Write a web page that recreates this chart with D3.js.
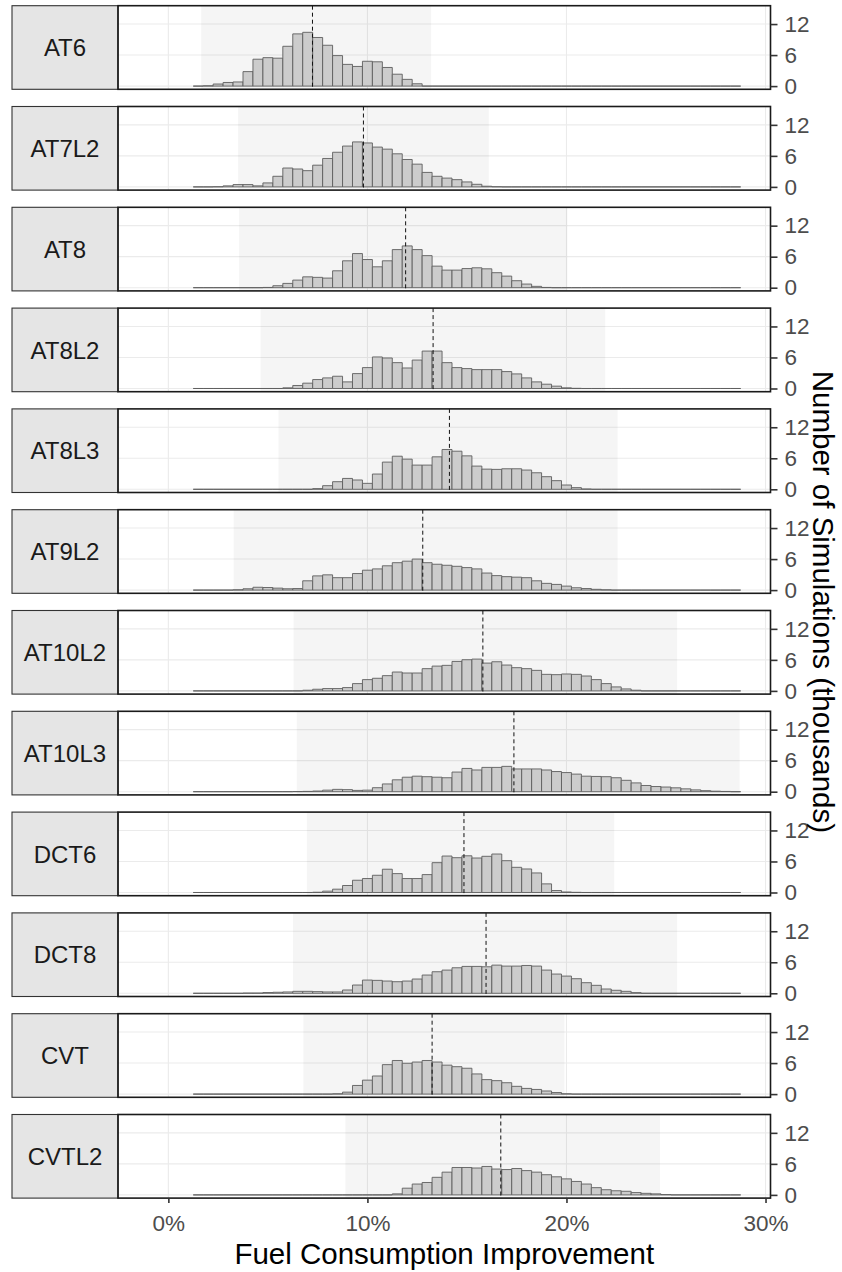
<!DOCTYPE html>
<html>
<head>
<meta charset="utf-8">
<script src="https://cdn.jsdelivr.net/npm/d3@7"></script>
<style>
  body { margin: 0; background: #fff; }
  text { font-family: "Liberation Sans", Arial, sans-serif; }
</style>
</head>
<body>
<div id="chart-area"></div>
<script>
// DATA
const facets = ["AT6", "AT7L2", "AT8", "AT8L2", "AT8L3", "AT9L2", "AT10L2", "AT10L3", "DCT6", "DCT8", "CVT", "CVTL2"]

// histogram bins: 55 bins of 0.5 points starting at 1.25%
const binStart = 1.25
const binWidth = 0.5

// counts per bin, thousands of simulations
const countsAT6 = [
  0, 0.06, 0.4, 0.7, 0.8, 2.8, 5.2, 5.5, 5.4, 7.7,
  10.1, 10.4, 9.4, 7.9, 5.9, 4.2, 3.8, 4.8, 4.7, 3.6,
  2.3, 1.3, 0.45, 0, 0, 0, 0, 0, 0, 0,
  0, 0, 0, 0, 0, 0, 0, 0, 0, 0,
  0, 0, 0, 0, 0, 0, 0, 0, 0, 0,
  0, 0, 0, 0, 0]
const countsAT7L2 = [
  0, 0, 0.03, 0.2, 0.45, 0.45, 0.2, 0.77, 2.05, 3.65,
  3.46, 3.14, 4.2, 5.5, 6.7, 7.9, 8.7, 8.5, 7.7, 7.3,
  6.4, 5.3, 4.4, 2.8, 2.05, 1.7, 1.4, 0.96, 0.5, 0.13,
  0.03, 0, 0, 0, 0, 0, 0, 0, 0, 0,
  0, 0, 0, 0, 0, 0, 0, 0, 0, 0,
  0, 0, 0, 0, 0]
const countsAT8 = [
  0, 0, 0, 0, 0, 0, 0, 0.05, 0.38, 0.83,
  1.47, 2.1, 2.0, 1.86, 3.27, 5.2, 6.6, 5.45, 4.04, 5.2,
  7.37, 8.08, 7.37, 6.2, 4.17, 3.4, 3.4, 3.7, 3.85, 3.65,
  2.9, 2.24, 1.35, 0.7, 0.26, 0.05, 0, 0, 0, 0,
  0, 0, 0, 0, 0, 0, 0, 0, 0, 0,
  0, 0, 0, 0, 0]
const countsAT8L2 = [
  0, 0, 0, 0, 0, 0, 0, 0, 0, 0.13,
  0.58, 1.03, 1.73, 2.05, 2.37, 1.28, 2.88, 4.04, 6.1, 5.9,
  5.0, 3.97, 5.5, 7.24, 7.24, 5.0, 4.04, 3.85, 3.65, 3.65,
  3.65, 3.27, 2.82, 2.05, 1.28, 0.83, 0.45, 0.13, 0.03, 0,
  0, 0, 0, 0, 0, 0, 0, 0, 0, 0,
  0, 0, 0, 0, 0]
const countsAT8L3 = [
  0, 0, 0, 0, 0, 0, 0, 0, 0, 0,
  0, 0, 0.13, 0.7, 1.47, 2.1, 1.8, 1.15, 2.95, 5.26,
  6.4, 5.83, 4.68, 4.68, 6.28, 7.7, 7.37, 6.47, 4.49, 3.9,
  3.85, 3.97, 3.97, 3.72, 3.2, 2.44, 1.67, 0.83, 0.32, 0.06,
  0, 0, 0, 0, 0, 0, 0, 0, 0, 0,
  0, 0, 0, 0, 0]
const countsAT9L2 = [
  0, 0, 0, 0, 0.06, 0.26, 0.55, 0.5, 0.38, 0.26,
  0.3, 1.8, 2.75, 2.95, 2.4, 2.4, 3.2, 3.85, 4.1, 4.7,
  5.3, 5.6, 6.0, 5.3, 5.0, 4.8, 4.6, 4.35, 4.1, 3.3,
  2.8, 2.6, 2.5, 2.4, 1.8, 1.3, 1.1, 0.77, 0.45, 0.3,
  0.15, 0.06, 0, 0, 0, 0, 0, 0, 0, 0,
  0, 0, 0, 0, 0]
const countsAT10L2 = [
  0, 0, 0, 0, 0, 0, 0, 0, 0, 0,
  0, 0.13, 0.32, 0.45, 0.45, 0.64, 1.41, 2.18, 2.44, 2.95,
  3.65, 3.46, 3.46, 4.3, 4.8, 4.94, 5.7, 6.03, 6.15, 5.38,
  5.64, 5.0, 4.49, 4.3, 3.97, 3.2, 3.14, 3.27, 3.2, 2.88,
  2.18, 1.41, 0.77, 0.38, 0.13, 0, 0, 0, 0, 0,
  0, 0, 0, 0, 0]
const countsAT10L3 = [
  0, 0, 0, 0, 0, 0, 0, 0, 0, 0,
  0.03, 0.06, 0.13, 0.3, 0.45, 0.4, 0.25, 0.3, 0.77, 1.5,
  2.3, 2.8, 3.0, 2.9, 2.8, 2.7, 3.8, 4.5, 4.2, 4.7,
  4.7, 4.9, 4.4, 4.4, 4.4, 4.2, 3.9, 3.7, 3.4, 3.0,
  2.95, 2.9, 2.7, 2.2, 1.7, 1.2, 1.0, 0.9, 0.75, 0.55,
  0.35, 0.2, 0.1, 0.05, 0]
const countsDCT6 = [
  0, 0, 0, 0, 0, 0, 0, 0, 0, 0,
  0, 0, 0.05, 0.26, 0.64, 1.35, 2.37, 2.7, 3.33, 4.5,
  3.65, 2.7, 2.7, 3.46, 5.77, 7.05, 6.73, 7.1, 6.67, 7.0,
  7.44, 6.15, 4.87, 4.55, 3.78, 1.67, 0.38, 0.1, 0.03, 0,
  0, 0, 0, 0, 0, 0, 0, 0, 0, 0,
  0, 0, 0, 0, 0]
const countsDCT8 = [
  0, 0, 0, 0, 0, 0.05, 0.05, 0.15, 0.2, 0.26,
  0.38, 0.38, 0.32, 0.26, 0.26, 0.64, 1.6, 2.56, 2.5, 2.37,
  2.24, 2.37, 2.76, 3.53, 4.17, 4.49, 4.94, 5.2, 5.2, 5.13,
  5.45, 5.26, 5.26, 5.38, 5.26, 4.49, 3.72, 3.33, 2.82, 2.05,
  1.54, 0.83, 0.58, 0.38, 0.13, 0, 0, 0, 0, 0,
  0, 0, 0, 0, 0]
const countsCVT = [
  0, 0, 0, 0, 0, 0, 0, 0, 0, 0,
  0, 0, 0, 0, 0.06, 0.38, 1.67, 2.7, 3.5, 5.7,
  6.5, 5.96, 6.2, 6.5, 6.2, 5.6, 5.3, 5.0, 3.9, 2.8,
  2.6, 2.2, 1.5, 1.1, 0.9, 0.6, 0.3, 0.06, 0, 0,
  0, 0, 0, 0, 0, 0, 0, 0, 0, 0,
  0, 0, 0, 0, 0]
const countsCVTL2 = [
  0, 0, 0, 0, 0, 0, 0, 0, 0, 0,
  0, 0, 0, 0, 0, 0, 0, 0, 0, 0,
  0.2, 1.3, 2.1, 2.4, 3.4, 4.4, 5.3, 5.3, 5.2, 5.5,
  5.0, 4.9, 5.1, 4.7, 4.4, 3.9, 3.5, 3.1, 2.6, 2.1,
  1.4, 1.0, 0.8, 0.7, 0.45, 0.3, 0.2, 0.06, 0, 0,
  0, 0, 0, 0, 0]

const series = [countsAT6, countsAT7L2, countsAT8, countsAT8L2, countsAT8L3, countsAT9L2,
  countsAT10L2, countsAT10L3, countsDCT6, countsDCT8, countsCVT, countsCVTL2]

// median (dashed line) and shaded range, % improvement
const medians = [7.24, 9.8, 11.92, 13.3, 14.12, 12.78, 15.8, 17.36, 14.85, 15.96, 13.25, 16.7]
const shadeLow = [1.65, 3.5, 3.55, 4.63, 5.53, 3.28, 6.29, 6.45, 6.96, 6.26, 6.78, 8.89]
const shadeHigh = [13.2, 16.1, 20.05, 21.95, 22.57, 22.57, 25.56, 28.7, 22.4, 25.56, 19.9, 24.7]

const xTicks = [0, 10, 20, 30]
const yTicks = [0, 6, 12]

// LAYOUT
const width = 842
const height = 1272
const panel = { left: 118, right: 770.5, top: 5.7, height: 83.6, step: 100.8 }
const stripLeft = 12

const svg = d3.select("#chart-area")
  .append("svg")
    .attr("width", width)
    .attr("height", height)

const xScale = d3.scaleLinear()
  .domain([-2.53, 30.25])
  .range([panel.left, panel.right])

const yScale = d3.scaleLinear()
  .domain([-0.62, 15.55])
  .range([panel.height, 0])

const bins = series[0].map((d, k) => binStart + k * binWidth)

facets.forEach((name, i) => {
  const g = svg.append("g")
    .attr("transform", "translate(0, " + (panel.top + i * panel.step) + ")")

  // gridlines
  g.selectAll(".gx").data(xTicks).enter().append("line")
    .attr("x1", d => xScale(d)).attr("x2", d => xScale(d))
    .attr("y1", 0).attr("y2", panel.height)
    .attr("stroke", "#ebebeb").attr("stroke-width", 1.1)
  g.selectAll(".gy").data(yTicks).enter().append("line")
    .attr("x1", panel.left).attr("x2", panel.right)
    .attr("y1", d => yScale(d)).attr("y2", d => yScale(d))
    .attr("stroke", "#ebebeb").attr("stroke-width", 1.1)

  // shaded range
  g.append("rect")
    .attr("x", xScale(shadeLow[i]))
    .attr("width", xScale(shadeHigh[i]) - xScale(shadeLow[i]))
    .attr("y", 0)
    .attr("height", panel.height)
    .attr("fill", "#000")
    .attr("fill-opacity", 0.04)

  // histogram bars (paths so that empty bins still show as a baseline)
  g.selectAll(".bar").data(series[i]).enter().append("path")
    .attr("d", (d, k) => {
      const x0 = xScale(bins[k]), x1 = xScale(bins[k] + binWidth)
      const y0 = yScale(0), y1 = yScale(d)
      return "M" + x0 + "," + y0 + "V" + y1 + "H" + x1 + "V" + y0 + "Z"
    })
    .attr("fill", "#cccccc")
    .attr("stroke", "#5e5e5e")
    .attr("stroke-width", 0.9)

  // median
  g.append("line")
    .attr("x1", xScale(medians[i])).attr("x2", xScale(medians[i]))
    .attr("y1", 0).attr("y2", panel.height)
    .attr("stroke", "#111")
    .attr("stroke-width", 1)
    .attr("stroke-dasharray", "4,3")

  // strip
  g.append("rect")
    .attr("x", stripLeft).attr("y", 0)
    .attr("width", panel.left - stripLeft).attr("height", panel.height)
    .attr("fill", "#e5e5e5")
    .attr("stroke", "#333")
    .attr("stroke-width", 1.1)
  g.append("text")
    .attr("x", (stripLeft + panel.left) / 2)
    .attr("y", panel.height / 2)
    .attr("dy", "0.36em")
    .attr("text-anchor", "middle")
    .attr("font-size", "24px")
    .attr("fill", "#1a1a1a")
    .text(name)

  // panel border
  g.append("rect")
    .attr("x", panel.left).attr("y", 0)
    .attr("width", panel.right - panel.left).attr("height", panel.height)
    .attr("fill", "none")
    .attr("stroke", "#1a1a1a")
    .attr("stroke-width", 1.6)

  // right axis
  const yAxisCall = d3.axisRight(yScale).tickValues(yTicks).tickSize(7).tickPadding(7)
  const ya = g.append("g")
    .attr("transform", "translate(" + panel.right + ", 0)")
    .call(yAxisCall)
  ya.select(".domain").remove()
  ya.selectAll("line").attr("stroke", "#333").attr("stroke-width", 1.6)
  ya.selectAll("text")
    .attr("font-family", "Liberation Sans, Arial, sans-serif")
    .attr("font-size", "22.5px")
    .attr("fill", "#4d4d4d")

  if (i === facets.length - 1) {
    const xAxisCall = d3.axisBottom(xScale)
      .tickValues(xTicks)
      .tickFormat(d => d + "%")
      .tickSize(5)
      .tickPadding(12)
    const xa = g.append("g")
      .attr("transform", "translate(0, " + panel.height + ")")
      .call(xAxisCall)
    xa.select(".domain").remove()
    xa.selectAll("line").attr("stroke", "#333").attr("stroke-width", 1.6)
    xa.selectAll("text")
      .attr("font-family", "Liberation Sans, Arial, sans-serif")
      .attr("font-size", "22.5px")
      .attr("fill", "#4d4d4d")
  }
})

// AXIS TITLES
const panelsBottom = panel.top + (facets.length - 1) * panel.step + panel.height

svg.append("text")
  .attr("x", (panel.left + panel.right) / 2)
  .attr("y", 1264)
  .attr("text-anchor", "middle")
  .attr("font-size", "29.5px")
  .attr("fill", "#000")
  .text("Fuel Consumption Improvement")

svg.append("text")
  .attr("transform", "translate(813, " + (panel.top + panelsBottom) / 2 + ") rotate(90)")
  .attr("text-anchor", "middle")
  .attr("font-size", "29.5px")
  .attr("fill", "#000")
  .text("Number of Simulations (thousands)")
</script>
</body>
</html>
